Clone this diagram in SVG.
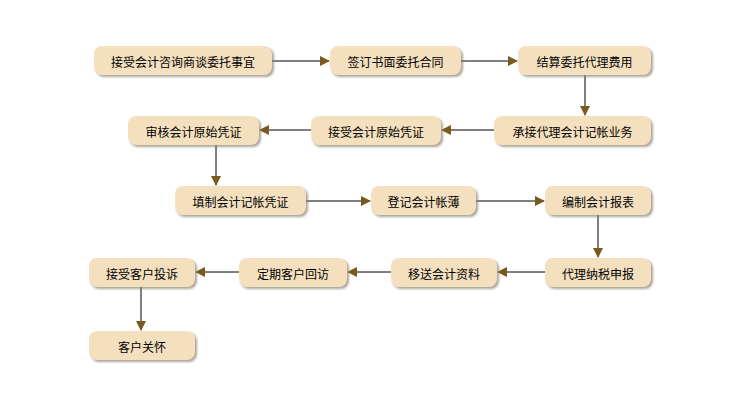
<svg xmlns="http://www.w3.org/2000/svg" width="745" height="403" viewBox="0 0 745 403">
<style>
.n rect.s{fill:#8a8070;opacity:.7}
.n rect.b{fill:#f4e0bf}
.n text{font-family:"Noto Sans CJK SC",sans-serif;font-size:12px;fill:#000;text-anchor:middle;dominant-baseline:central}
#c line{stroke:#000;stroke-width:1}
</style>
<defs>
<marker id="a" markerWidth="10" markerHeight="10" refX="9" refY="5" orient="auto" markerUnits="userSpaceOnUse"><path d="M0,0 L10,5 L0,10 Z" fill="#7a5a1c"/></marker>
<filter id="f"><feGaussianBlur stdDeviation="1"/></filter>
</defs>
<rect width="745" height="403" fill="#fff"/>
<g id="c">
<line x1="272" y1="61" x2="329" y2="61" marker-end="url(#a)"/>
<line x1="461" y1="61" x2="517" y2="61" marker-end="url(#a)"/>
<line x1="585" y1="75" x2="585" y2="115" marker-end="url(#a)"/>
<line x1="494" y1="130" x2="442" y2="130" marker-end="url(#a)"/>
<line x1="311" y1="130" x2="260" y2="130" marker-end="url(#a)"/>
<line x1="216" y1="145" x2="216" y2="185" marker-end="url(#a)"/>
<line x1="306" y1="201" x2="370" y2="201" marker-end="url(#a)"/>
<line x1="476" y1="201" x2="544" y2="201" marker-end="url(#a)"/>
<line x1="598" y1="215" x2="598" y2="257" marker-end="url(#a)"/>
<line x1="545" y1="272" x2="498" y2="272" marker-end="url(#a)"/>
<line x1="391" y1="272" x2="348" y2="272" marker-end="url(#a)"/>
<line x1="239" y1="272" x2="196" y2="272" marker-end="url(#a)"/>
<line x1="141" y1="287" x2="141" y2="330" marker-end="url(#a)"/>
</g>
<g id="n1" class="n"><rect class="s" x="96" y="48" width="178" height="29" rx="8" filter="url(#f)"/><rect class="b" x="94" y="46" width="178" height="29" rx="8"/><text x="183" y="61">接受会计咨询商谈委托事宜</text></g>
<g id="n2" class="n"><rect class="s" x="332" y="48" width="131" height="29" rx="8" filter="url(#f)"/><rect class="b" x="330" y="46" width="131" height="29" rx="8"/><text x="395.5" y="61">签订书面委托合同</text></g>
<g id="n3" class="n"><rect class="s" x="520" y="48" width="133" height="29" rx="8" filter="url(#f)"/><rect class="b" x="518" y="46" width="133" height="29" rx="8"/><text x="584.5" y="61">结算委托代理费用</text></g>
<g id="n4" class="n"><rect class="s" x="130" y="118" width="131" height="29" rx="8" filter="url(#f)"/><rect class="b" x="128" y="116" width="131" height="29" rx="8"/><text x="193.5" y="131">审核会计原始凭证</text></g>
<g id="n5" class="n"><rect class="s" x="313" y="118" width="130" height="29" rx="8" filter="url(#f)"/><rect class="b" x="311" y="116" width="130" height="29" rx="8"/><text x="376" y="131">接受会计原始凭证</text></g>
<g id="n6" class="n"><rect class="s" x="496" y="118" width="157" height="29" rx="8" filter="url(#f)"/><rect class="b" x="494" y="116" width="157" height="29" rx="8"/><text x="572.5" y="131">承接代理会计记帐业务</text></g>
<g id="n7" class="n"><rect class="s" x="177" y="188" width="131" height="29" rx="8" filter="url(#f)"/><rect class="b" x="175" y="186" width="131" height="29" rx="8"/><text x="240.5" y="201">填制会计记帐凭证</text></g>
<g id="n8" class="n"><rect class="s" x="373" y="188" width="105" height="29" rx="8" filter="url(#f)"/><rect class="b" x="371" y="186" width="105" height="29" rx="8"/><text x="423.5" y="201">登记会计帐薄</text></g>
<g id="n9" class="n"><rect class="s" x="547" y="188" width="106" height="29" rx="8" filter="url(#f)"/><rect class="b" x="545" y="186" width="106" height="29" rx="8"/><text x="598" y="201">编制会计报表</text></g>
<g id="n10" class="n"><rect class="s" x="91" y="260" width="106" height="29" rx="8" filter="url(#f)"/><rect class="b" x="89" y="258" width="106" height="29" rx="8"/><text x="142" y="273">接受客户投诉</text></g>
<g id="n11" class="n"><rect class="s" x="241" y="260" width="108" height="29" rx="8" filter="url(#f)"/><rect class="b" x="239" y="258" width="108" height="29" rx="8"/><text x="293" y="273">定期客户回访</text></g>
<g id="n12" class="n"><rect class="s" x="393" y="260" width="106" height="29" rx="8" filter="url(#f)"/><rect class="b" x="391" y="258" width="106" height="29" rx="8"/><text x="444" y="273">移送会计资料</text></g>
<g id="n13" class="n"><rect class="s" x="547" y="260" width="106" height="29" rx="8" filter="url(#f)"/><rect class="b" x="545" y="258" width="106" height="29" rx="8"/><text x="598" y="273">代理纳税申报</text></g>
<g id="n14" class="n"><rect class="s" x="91" y="333" width="106" height="29" rx="8" filter="url(#f)"/><rect class="b" x="89" y="331" width="106" height="29" rx="8"/><text x="142" y="346">客户关怀</text></g>
</svg>
